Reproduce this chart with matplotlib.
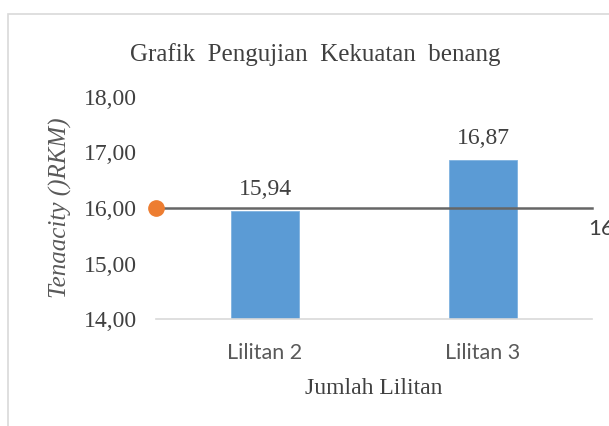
import matplotlib
matplotlib.use("Agg")
import matplotlib.pyplot as plt
from matplotlib.patches import Rectangle

categories = ["Lilitan 2", "Lilitan 3"]
tenacity = [15.94, 16.87]
target = 16
y_ticks = [14, 15, 16, 17, 18]

serif = "Liberation Serif"
sans = "Lato"
gray = "#595959"

fig = plt.figure(figsize=(6.09, 4.26), dpi=100)
fig.patches.append(Rectangle((8 / 609, -0.1), 1.2, (426 - 14) / 426 + 0.1,
                             transform=fig.transFigure, fill=False,
                             edgecolor="#d9d9d9", linewidth=1.2))

ax = fig.add_axes([156 / 609, 107 / 426, 436 / 609, 222 / 426])
x = list(range(len(categories)))
ax.bar(x, tenacity, width=0.316, color="#5b9bd5", edgecolor="#7fb2e0",
       linewidth=0.6, zorder=2)

for xi, v in zip(x, tenacity):
    ax.annotate(f"{v:.2f}".replace(".", ","), (xi, v), xytext=(0, 8),
                textcoords="offset points", ha="center", va="bottom",
                fontsize=17, family=serif, color="#404040")

# target line, marker only at its first point
ax.plot([-0.5, 1.5], [target, target], color="#666666", linewidth=1.8,
        zorder=3, clip_on=False)
ax.plot([-0.5], [target], "o", color="#ed7d31", markersize=11, zorder=4,
        clip_on=False)
ax.annotate(str(target), (1.5, target), xytext=(-3, -8),
            textcoords="offset points", ha="left", va="top",
            fontsize=16, family=sans, color="#404040", annotation_clip=False)

ax.set_xlim(-0.5, 1.5)
ax.set_ylim(14, 18)
ax.set_yticks(y_ticks)
ax.set_yticklabels([f"{t:.2f}".replace(".", ",") for t in y_ticks],
                   family=serif, fontsize=17, color="#404040")
ax.set_xticks(x)
ax.set_xticklabels(categories, family=sans, fontsize=15.5, color=gray)
ax.tick_params(axis="y", length=0, pad=14)
ax.tick_params(axis="x", length=0, pad=17)

for side in ["top", "right", "left"]:
    ax.spines[side].set_visible(False)
ax.spines["bottom"].set_color("#d9d9d9")
ax.spines["bottom"].set_linewidth(1.2)

ax.set_xlabel("Jumlah Lilitan", family=serif, fontsize=17, color="#404040",
              labelpad=11)
ax.set_ylabel("Tenaacity ()RKM)", family=serif, style="italic", fontsize=18,
              color="#595959", labelpad=8)
fig.text(315 / 609, 1 - 55 / 426, "Grafik  Pengujian  Kekuatan  benang",
         family=serif, fontsize=18, color="#404040", ha="center", va="center")

fig.savefig("out.png", dpi=100)
